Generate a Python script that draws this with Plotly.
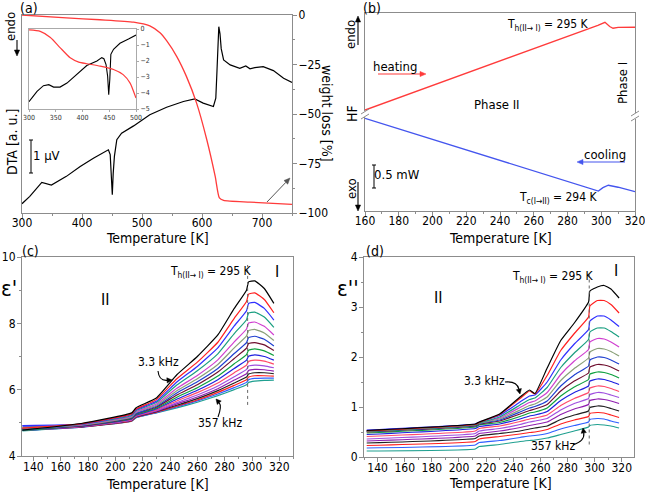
import math
import plotly.graph_objects as go

W, H = 645, 493
FONT = "Liberation Sans Narrow, Arial Narrow, DejaVu Sans Condensed, Liberation Sans, Arial, sans-serif"

# ---------------- data: panel (a) DTA / TG ----------------
dta_T = [300, 313, 333, 349, 374, 397, 419, 436, 444, 447, 449, 450.5, 452, 454, 458, 466, 486, 513, 541, 569,
         588, 602, 619, 623, 625, 626.5, 628, 630, 632, 636, 647, 663, 673, 680, 688, 702, 719, 736, 750]
dta_v = [-95.3, -91.6, -84.5, -85.9, -81.5, -76.5, -72.3, -69.7, -68.1, -70.5, -80.0, -90.8, -80.0, -71.4, -63.0,
         -59.7, -56.0, -50.4, -46.6, -43.7, -42.4, -44.5, -46.2, -42.0, -28.0, -12.0, -5.9, -9.5, -17.0, -22.7,
         -25.2, -26.9, -25.7, -27.2, -26.6, -26.1, -28.1, -31.9, -34.1]
wl_T = [300, 374, 430, 486, 513, 530, 541, 558, 574, 591, 608, 622, 629, 636, 680, 750]
wl_v = [0, -1.5, -2.4, -3.6, -5.5, -9, -13, -21, -31, -44.5, -63, -81.5, -92.4, -93.6, -94.5, -95.6]

# inset (300-500 K)
ins_dta_T = [300, 315, 327, 337, 346, 358, 371, 389, 408, 427, 436, 440, 444, 447, 449, 451, 453, 458, 470, 486, 500]
ins_dta_v = [-4.54, -3.9, -3.54, -3.48, -3.63, -3.63, -3.38, -2.85, -2.28, -2.0, -1.79, -1.86, -2.22, -2.95,
             -4.11, -3.16, -1.58, -1.27, -0.89, -0.63, -0.38]
ins_wl_T = [300, 321, 340, 358, 377, 393, 408, 433, 458, 476, 489, 500]
ins_wl_v = [-0.06, -0.15, -0.53, -1.16, -1.8, -2.07, -2.17, -2.32, -2.53, -2.85, -3.38, -4.32]

# ---------------- data: panel (b) DSC ----------------
heat_T = [160, 200, 250, 293, 298, 302.2, 305, 307, 310, 320]
heat_v = [51.0, 63.3, 78.7, 92.0, 93.8, 95.3, 93.2, 92.3, 92.7, 92.8]
cool_T = [160, 200, 250, 290, 298.3, 301, 304.2, 310, 320]
cool_v = [46.8, 36.2, 22.9, 12.2, 10.1, 11.8, 13.0, 12.0, 9.8]

# ---------------- data: panel (c) eps' ----------------
eps1_T = [132, 175, 212, 215, 230, 245, 260, 275, 287, 296, 297.5, 302, 309, 316]
eps1 = [
    [4.78, 4.98, 5.30, 5.45, 5.75, 6.45, 7.00, 7.65, 8.45, 9.00, 9.25, 9.28, 9.05, 8.60],
    [4.84, 4.97, 5.27, 5.41, 5.70, 6.33, 6.83, 7.43, 8.15, 8.66, 8.88, 8.92, 8.72, 8.32],
    [4.92, 4.96, 5.25, 5.39, 5.65, 6.23, 6.70, 7.26, 7.92, 8.38, 8.60, 8.63, 8.45, 8.10],
    [4.80, 4.95, 5.22, 5.36, 5.61, 6.14, 6.57, 7.08, 7.69, 8.11, 8.31, 8.34, 8.19, 7.88],
    [4.82, 4.94, 5.20, 5.33, 5.57, 6.04, 6.43, 6.90, 7.44, 7.83, 8.01, 8.04, 7.91, 7.65],
    [4.86, 4.93, 5.18, 5.31, 5.53, 5.97, 6.33, 6.76, 7.26, 7.62, 7.78, 7.82, 7.71, 7.48],
    [4.79, 4.92, 5.16, 5.28, 5.50, 5.90, 6.24, 6.64, 7.09, 7.42, 7.57, 7.61, 7.52, 7.32],
    [4.81, 4.91, 5.15, 5.27, 5.47, 5.84, 6.15, 6.53, 6.94, 7.25, 7.39, 7.42, 7.35, 7.18],
    [4.77, 4.91, 5.13, 5.25, 5.44, 5.77, 6.06, 6.41, 6.78, 7.06, 7.19, 7.23, 7.17, 7.03],
    [4.90, 4.90, 5.12, 5.23, 5.42, 5.71, 5.98, 6.30, 6.64, 6.89, 7.01, 7.05, 7.00, 6.89],
    [4.85, 4.89, 5.10, 5.21, 5.39, 5.66, 5.91, 6.20, 6.51, 6.74, 6.85, 6.89, 6.86, 6.77],
    [4.80, 4.89, 5.09, 5.20, 5.37, 5.61, 5.84, 6.11, 6.39, 6.61, 6.71, 6.74, 6.72, 6.66],
    [4.78, 4.88, 5.08, 5.19, 5.35, 5.57, 5.78, 6.03, 6.29, 6.48, 6.58, 6.61, 6.60, 6.56],
    [4.83, 4.88, 5.07, 5.18, 5.34, 5.53, 5.73, 5.97, 6.20, 6.38, 6.47, 6.51, 6.51, 6.48],
    [4.79, 4.88, 5.06, 5.17, 5.32, 5.50, 5.69, 5.92, 6.13, 6.30, 6.38, 6.42, 6.42, 6.41],
    [4.77, 4.87, 5.06, 5.16, 5.31, 5.48, 5.66, 5.87, 6.06, 6.22, 6.30, 6.34, 6.35, 6.35],
    [4.76, 4.87, 5.05, 5.15, 5.30, 5.45, 5.62, 5.82, 6.00, 6.15, 6.22, 6.26, 6.28, 6.29],
]

# ---------------- data: panel (d) eps'' ----------------
eps2_T = [132, 212, 215, 230, 245, 252, 256, 265, 275, 285, 295.5, 296.5, 302, 307, 312, 318]
eps2 = [
    [0.53, 0.66, 0.70, 0.86, 1.20, 1.34, 1.27, 1.78, 2.33, 2.68, 3.10, 3.32, 3.40, 3.43, 3.36, 3.18],
    [0.52, 0.65, 0.69, 0.85, 1.17, 1.32, 1.26, 1.63, 2.13, 2.47, 2.80, 3.02, 3.13, 3.13, 3.05, 2.88],
    [0.54, 0.66, 0.70, 0.83, 1.10, 1.22, 1.24, 1.50, 1.94, 2.26, 2.55, 2.72, 2.82, 2.82, 2.74, 2.61],
    [0.51, 0.64, 0.68, 0.80, 1.04, 1.15, 1.18, 1.39, 1.79, 2.08, 2.35, 2.50, 2.58, 2.58, 2.51, 2.40],
    [0.53, 0.65, 0.69, 0.78, 0.99, 1.09, 1.12, 1.29, 1.65, 1.92, 2.15, 2.30, 2.37, 2.36, 2.30, 2.20],
    [0.52, 0.64, 0.68, 0.76, 0.94, 1.03, 1.06, 1.20, 1.53, 1.77, 1.98, 2.10, 2.17, 2.16, 2.11, 2.02],
    [0.51, 0.63, 0.67, 0.74, 0.90, 0.98, 1.01, 1.12, 1.42, 1.64, 1.82, 1.94, 2.00, 1.99, 1.94, 1.86],
    [0.50, 0.62, 0.66, 0.72, 0.86, 0.93, 0.96, 1.05, 1.32, 1.52, 1.68, 1.80, 1.85, 1.84, 1.80, 1.72],
    [0.48, 0.60, 0.64, 0.69, 0.81, 0.88, 0.90, 0.98, 1.22, 1.40, 1.55, 1.66, 1.70, 1.69, 1.65, 1.58],
    [0.45, 0.57, 0.61, 0.66, 0.76, 0.82, 0.84, 0.91, 1.13, 1.29, 1.42, 1.52, 1.56, 1.55, 1.51, 1.45],
    [0.41, 0.52, 0.57, 0.62, 0.71, 0.76, 0.78, 0.84, 1.03, 1.17, 1.29, 1.38, 1.42, 1.41, 1.37, 1.31],
    [0.36, 0.47, 0.52, 0.57, 0.65, 0.70, 0.72, 0.77, 0.94, 1.07, 1.17, 1.25, 1.29, 1.28, 1.24, 1.19],
    [0.32, 0.42, 0.47, 0.52, 0.59, 0.63, 0.65, 0.70, 0.85, 0.96, 1.05, 1.13, 1.16, 1.15, 1.12, 1.07],
    [0.28, 0.37, 0.42, 0.47, 0.52, 0.56, 0.58, 0.62, 0.75, 0.84, 0.92, 0.99, 1.02, 1.01, 0.97, 0.92],
    [0.23, 0.31, 0.36, 0.41, 0.46, 0.49, 0.50, 0.55, 0.66, 0.74, 0.81, 0.87, 0.89, 0.88, 0.84, 0.79],
    [0.18, 0.24, 0.29, 0.33, 0.39, 0.42, 0.43, 0.47, 0.56, 0.63, 0.70, 0.75, 0.77, 0.76, 0.72, 0.68],
    [0.12, 0.16, 0.21, 0.25, 0.31, 0.33, 0.34, 0.38, 0.45, 0.52, 0.60, 0.63, 0.65, 0.64, 0.62, 0.58],
]

curve_colors = ["#000000", "#ff2020", "#3030ff", "#1a9f80", "#d040d0", "#8aa078", "#2040d0", "#701030",
                "#10a040", "#2020e0", "#ff4a6a", "#a050e0", "#9020b0", "#202020", "#ff2020", "#3060ff", "#20a090"]

Tc_transition = 296.8
Td_transition = 296.0
dotted_c = [5.54, 9.76]
dotted_d = [0.25, 3.65]

# ---------------- figure ----------------
def px(x):
    return x / W


def py(y):
    return 1 - y / H


fig = go.Figure()

RED = "#ff3b3b"
BLUE = "#4455ee"

fig.add_trace(go.Scatter(x=dta_T, y=dta_v, xaxis="x", yaxis="y", mode="lines",
                         line=dict(color="black", width=1.2)))
fig.add_trace(go.Scatter(x=wl_T, y=wl_v, xaxis="x", yaxis="y2", mode="lines",
                         line=dict(color=RED, width=1.3, shape="spline", smoothing=0.6)))
fig.add_trace(go.Scatter(x=ins_dta_T, y=ins_dta_v, xaxis="x2", yaxis="y3", mode="lines",
                         line=dict(color="black", width=1.1)))
fig.add_trace(go.Scatter(x=ins_wl_T, y=ins_wl_v, xaxis="x2", yaxis="y3", mode="lines",
                         line=dict(color=RED, width=1.2, shape="spline", smoothing=0.6)))

fig.add_trace(go.Scatter(x=heat_T, y=heat_v, xaxis="x3", yaxis="y4", mode="lines",
                         line=dict(color=RED, width=1.3)))
fig.add_trace(go.Scatter(x=cool_T, y=cool_v, xaxis="x3", yaxis="y4", mode="lines",
                         line=dict(color=BLUE, width=1.3)))

for i in range(len(eps1) - 1, -1, -1):
    fig.add_trace(go.Scatter(x=eps1_T, y=eps1[i], xaxis="x4", yaxis="y5", mode="lines",
                             line=dict(color=curve_colors[i], width=1.2, shape="spline", smoothing=0.4)))
for i in range(len(eps2) - 1, -1, -1):
    fig.add_trace(go.Scatter(x=eps2_T, y=eps2[i], xaxis="x5", yaxis="y6", mode="lines",
                             line=dict(color=curve_colors[i], width=1.2, shape="spline", smoothing=0.4)))

fig.add_trace(go.Scatter(x=[Tc_transition, Tc_transition], y=dotted_c, xaxis="x4", yaxis="y5", mode="lines",
                         line=dict(color="#666666", width=1, dash="dot")))
fig.add_trace(go.Scatter(x=[Td_transition, Td_transition], y=dotted_d, xaxis="x5", yaxis="y6", mode="lines",
                         line=dict(color="#666666", width=1, dash="dot")))

FRAME = "#8c8c8c"
tickfont = dict(family=FONT, size=12, color="black")


def xax(domain, rng, anchor, dtick, tick0, minor, **kw):
    d = dict(domain=domain, range=rng, anchor=anchor, dtick=dtick, tick0=tick0, showline=True, mirror=True,
             linecolor=FRAME, linewidth=1, ticks="outside", ticklen=4, tickcolor=FRAME, tickfont=tickfont,
             showgrid=False, zeroline=False, automargin=False, ticklabeloverflow="allow",
             minor=dict(ticks="outside", ticklen=2, tickcolor=FRAME, dtick=minor, showgrid=False))
    d.update(kw)
    return d


layout = dict(
    width=W, height=H, margin=dict(l=0, r=0, t=0, b=0, autoexpand=False), showlegend=False,
    paper_bgcolor="white", plot_bgcolor="white", font=dict(family=FONT, color="black"),
    xaxis=xax([px(22), px(292)], [300, 750], "y", 100, 300, 50, ticklabelstandoff=-5),
    yaxis=dict(domain=[py(213), py(15)], range=[-100, 0], anchor="x", showline=True, mirror=True,
               linecolor=FRAME, showticklabels=False, ticks="", showgrid=False, zeroline=False,
               automargin=False),
    yaxis2=dict(overlaying="y", side="right", anchor="x", range=[-100, 0], dtick=25, ticks="outside",
                ticklen=4, tickcolor=FRAME, tickfont=tickfont, showgrid=False, zeroline=False, showline=False,
                automargin=False, ticklabelstandoff=-1, ticklabeloverflow="allow",
                minor=dict(ticks="outside", ticklen=2, tickcolor=FRAME, dtick=12.5)),
    xaxis2=dict(domain=[px(29), px(136)], range=[300, 500], anchor="y3", dtick=50, showline=True, mirror=True,
                linecolor="#aaaaaa", ticks="outside", ticklen=2, tickcolor="#aaaaaa", automargin=False,
                tickfont=dict(family=FONT, size=7, color="#333"), showgrid=False, zeroline=False,
                ticklabeloverflow="allow"),
    yaxis3=dict(domain=[py(109), py(29)], range=[-5, 0], anchor="x2", side="right", dtick=1, showline=True,
                mirror=True, linecolor="#aaaaaa", ticks="outside", ticklen=2, tickcolor="#aaaaaa",
                automargin=False, ticklabeloverflow="allow",
                tickfont=dict(family=FONT, size=7, color="#333"), showgrid=False, zeroline=False),
    xaxis3=xax([px(365), px(635)], [160, 320], "y4", 20, 160, 10, ticklabelstandoff=-5),
    yaxis4=dict(domain=[py(211), py(13)], range=[0, 100], anchor="x3", showline=True, mirror=True,
                linecolor=FRAME, showticklabels=False, ticks="", showgrid=False, zeroline=False,
                automargin=False),
    xaxis4=xax([px(22), px(293)], [131.7, 330], "y5", 20, 140, 10, ticklabelstandoff=-4),
    yaxis5=xax([py(456), py(257)], [4, 10], "x4", 2, 4, 1, ticklabelstandoff=-1),
    xaxis5=xax([px(364), px(634)], [130, 329], "y6", 20, 140, 10, ticklabelstandoff=-4),
    yaxis6=xax([py(457), py(257)], [0, 4], "x5", 1, 0, 0.5, ticklabelstandoff=-1),
)
fig.update_layout(**layout)

ann = []
shapes = []


def T(text, x, y, size=13, angle=0, color="black", xanchor="center"):
    ann.append(dict(text=text, x=px(x), y=py(y), xref="paper", yref="paper", showarrow=False,
                    textangle=angle, xanchor=xanchor, yanchor="middle",
                    font=dict(family=FONT, size=size, color=color)))


def L(x0, y0, x1, y1, color="black", width=1):
    shapes.append(dict(type="line", xref="paper", yref="paper", x0=px(x0), y0=py(y0), x1=px(x1), y1=py(y1),
                       line=dict(color=color, width=width)))


def ARROW(x0, y0, x1, y1, color="black", width=1.1, hl=6, hw=2.6, ctrl=None):
    """Straight (or quadratic-curved) arrow in pixel positions, head at (x1, y1)."""
    sx, sy = (ctrl if ctrl else (x0, y0))
    dx, dy = x1 - sx, y1 - sy
    n = math.hypot(dx, dy) or 1.0
    ux, uy = dx / n, dy / n
    bx, by = x1 - ux * hl, y1 - uy * hl
    if ctrl:
        path = "M {} {} Q {} {} {} {}".format(px(x0), py(y0), px(ctrl[0]), py(ctrl[1]), px(bx), py(by))
        shapes.append(dict(type="path", xref="paper", yref="paper", path=path,
                           line=dict(color=color, width=width)))
    else:
        L(x0, y0, bx, by, color, width)
    p1 = (bx - uy * hw, by + ux * hw)
    p2 = (bx + uy * hw, by - ux * hw)
    tri = "M {} {} L {} {} L {} {} Z".format(px(x1), py(y1), px(p1[0]), py(p1[1]), px(p2[0]), py(p2[1]))
    shapes.append(dict(type="path", xref="paper", yref="paper", path=tri, fillcolor=color,
                       line=dict(color=color, width=0.5)))


# panel (a)
T("(a)", 29, 8, 14)
T("endo", 11, 27, 13, -90)
ARROW(17, 40, 17, 56)
T("DTA [a. u.]", 12, 142, 14, -90)
T("1 μV", 46, 156, 13)
T("weight loss [%]", 327, 113, 14, 90)
T("Temperature [K]", 157, 238, 14)
ARROW(267, 202, 290, 178, color="#555555", width=1)

# panel (b)
T("(b)", 372, 8, 14)
T("endo", 351, 35, 13, -90)
ARROW(358, 45, 358, 16)
T("HF", 352, 114, 14, -90)
T("exo", 351, 189, 13, -90)
ARROW(358, 182, 358, 211)
T("heating", 395, 67, 13)
ARROW(378, 74, 426, 74, color=RED)
T("Phase II", 497, 104, 13)
T("Phase I", 623, 83, 13, -90)
T("cooling", 605, 154, 13)
ARROW(625, 162, 577, 162, color=BLUE)
T("0.5 mW", 397, 175, 13)
T("T<sub>h(II→ I)</sub> = 295 K", 548, 25, 12)
T("T<sub>c(I→II)</sub> = 294 K", 558, 198, 12)
T("Temperature [K]", 500, 238, 14)

# panel (c)
T("(c)", 30, 251, 14)
T("ε'", 9, 288, 22)
T("II", 105, 299, 16)
T("I", 277, 271, 16)
T("T<sub>h(II→ I)</sub> = 295 K", 211, 272, 12)
T("3.3 kHz", 158, 362, 12)
T("357 kHz", 220, 423, 12)
T("Temperature [K]", 157, 484, 14)
ARROW(158, 371, 172, 380, ctrl=(159, 381), hl=5)
ARROW(218, 417, 216, 399, ctrl=(222, 406), hl=5)

# panel (d)
T("(d)", 375, 251, 14)
T("ε''", 348, 288, 22)
T("II", 438, 297, 16)
T("I", 616, 270, 16)
T("T<sub>h(II→ I)</sub> = 295 K", 553, 277, 12)
T("3.3 kHz", 484, 381, 12)
T("357 kHz", 553, 446, 12)
T("Temperature [K]", 500, 483, 14)
ARROW(505, 382, 520, 394, ctrl=(517, 381), hl=5)
ARROW(573, 445, 583, 428, ctrl=(585, 441), hl=5)

# scale bars
L(31, 140, 31, 173)
L(29, 140, 33, 140)
L(29, 173, 33, 173)
L(374, 165, 374, 188)
L(372, 165, 376, 165)
L(372, 188, 376, 188)

# axis breaks in (b)
for xb, yb in [(365, 114), (635, 116)]:
    shapes.append(dict(type="rect", xref="paper", yref="paper", x0=px(xb - 4), x1=px(xb + 4),
                       y0=py(yb + 3), y1=py(yb - 3), line=dict(width=0), fillcolor="white", layer="above"))
    L(xb - 4, yb, xb + 4, yb - 5, FRAME)
    L(xb - 4, yb + 5, xb + 4, yb, FRAME)

fig.update_layout(annotations=ann, shapes=shapes)
fig.write_html("out.html", config={"displayModeBar": False},
               post_script="document.body.style.margin='0px';")
